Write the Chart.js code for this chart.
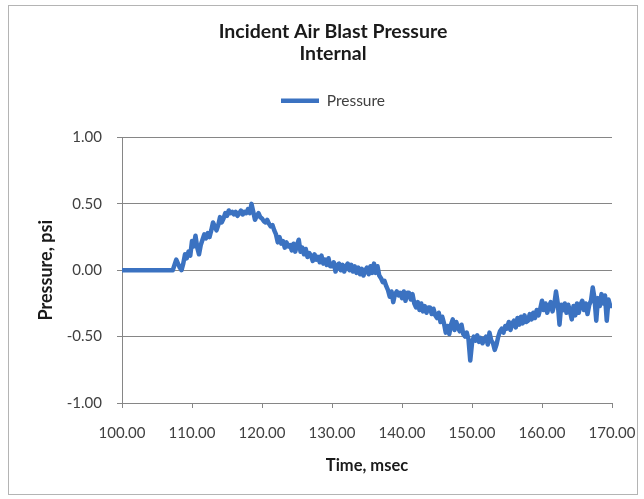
<!DOCTYPE html>
<html><head><meta charset="utf-8">
<script src="https://cdn.jsdelivr.net/npm/chart.js@4"></script>
<style>html,body{margin:0;padding:0;background:#fff}#c{display:block}</style>
</head><body>
<canvas id="c" width="644" height="499"></canvas>
<script>
const timeMs = [
100,100.25,100.5,100.75,101,101.25,101.5,101.75,102,102.25,102.5,102.75,103,103.25,103.5,103.75,
104,104.25,104.5,104.75,105,105.25,105.5,105.75,106,106.25,106.5,106.75,107,107.25,107.5,107.75,
108,108.25,108.5,108.75,109,109.25,109.5,109.75,110,110.25,110.5,110.75,111,111.25,111.5,111.75,
112,112.25,112.5,112.75,113,113.25,113.5,113.75,114,114.25,114.5,114.75,115,115.25,115.5,115.75,
116,116.25,116.5,116.75,117,117.25,117.5,117.75,118,118.25,118.5,118.75,119,119.25,119.5,119.75,
120,120.25,120.5,120.75,121,121.25,121.5,121.75,122,122.25,122.5,122.75,123,123.25,123.5,123.75,
124,124.25,124.5,124.75,125,125.25,125.5,125.75,126,126.25,126.5,126.75,127,127.25,127.5,127.75,
128,128.25,128.5,128.75,129,129.25,129.5,129.75,130,130.25,130.5,130.75,131,131.25,131.5,131.75,
132,132.25,132.5,132.75,133,133.25,133.5,133.75,134,134.25,134.5,134.75,135,135.25,135.5,135.75,
136,136.25,136.5,136.75,137,137.25,137.5,137.75,138,138.25,138.5,138.75,139,139.25,139.5,139.75,
140,140.25,140.5,140.75,141,141.25,141.5,141.75,142,142.25,142.5,142.75,143,143.25,143.5,143.75,
144,144.25,144.5,144.75,145,145.25,145.5,145.75,146,146.25,146.5,146.75,147,147.25,147.5,147.75,
148,148.25,148.5,148.75,149,149.25,149.5,149.75,150,150.25,150.5,150.75,151,151.25,151.5,151.75,
152,152.25,152.5,152.75,153,153.25,153.5,153.75,154,154.25,154.5,154.75,155,155.25,155.5,155.75,
156,156.25,156.5,156.75,157,157.25,157.5,157.75,158,158.25,158.5,158.75,159,159.25,159.5,159.75,
160,160.25,160.5,160.75,161,161.25,161.5,161.75,162,162.25,162.5,162.75,163,163.25,163.5,163.75,
164,164.25,164.5,164.75,165,165.25,165.5,165.75,166,166.25,166.5,166.75,167,167.25,167.5,167.75,
168,168.25,168.5,168.75,169,169.25,169.5,169.75,170
];
const pressurePsi = [
0,0,0,0, 0,0,0,0, 0,0,0,0, 0,0,0,0, 0,0,0,0, 0,0,0,0, 0,0,0,0,
0.00,0.00,0.04,0.08, 0.05,0.02,0.00,0.05, 0.12,0.09,0.14,0.11, 0.22,0.18,0.26,0.17,
0.12,0.19,0.23,0.27, 0.24,0.28,0.25,0.30, 0.36,0.33,0.30,0.34, 0.40,0.36,0.39,0.43,
0.41,0.45,0.43,0.44, 0.42,0.44,0.41,0.43, 0.45,0.42,0.44,0.43, 0.46,0.43,0.50,0.44,
0.38,0.41,0.43,0.40, 0.39,0.37,0.36,0.38, 0.35,0.33,0.34,0.30, 0.27,0.21,0.25,0.20,
0.22,0.17,0.21,0.18, 0.19,0.15,0.20,0.14, 0.19,0.23,0.14,0.17, 0.12,0.16,0.10,0.13,
0.11,0.07,0.12,0.08, 0.10,0.06,0.11,0.05, 0.08,0.04,0.09,0.03, 0.03,0.06,-0.01,0.04,
0.05,0.00,0.04,-0.01, 0.03,0.05,0.00,0.04, -0.01,0.03,-0.02,0.02, -0.03,0.01,-0.04,0.00,
0.02,-0.03,0.03,-0.02, 0.05,-0.02,0.03,-0.04, -0.06,-0.09,-0.08,-0.12, -0.15,-0.20,-0.16,-0.24,
-0.18,-0.16,-0.19,-0.17, -0.21,-0.16,-0.23,-0.17, -0.17,-0.22,-0.18,-0.25, -0.28,-0.24,-0.30,-0.25,
-0.31,-0.27,-0.32,-0.28, -0.28,-0.33,-0.29,-0.34, -0.36,-0.32,-0.39,-0.35, -0.40,-0.47,-0.42,-0.48,
-0.41,-0.37,-0.45,-0.39, -0.43,-0.46,-0.41,-0.48, -0.50,-0.47,-0.52,-0.68, -0.55,-0.50,-0.53,-0.49,
-0.54,-0.51,-0.55,-0.52, -0.50,-0.56,-0.47,-0.53, -0.55,-0.60,-0.56,-0.50, -0.46,-0.44,-0.47,-0.42,
-0.44,-0.39,-0.45,-0.40, -0.38,-0.43,-0.36,-0.41, -0.35,-0.40,-0.34,-0.39, -0.38,-0.33,-0.37,-0.32,
-0.36,-0.30,-0.34,-0.29, -0.23,-0.30,-0.25,-0.32, -0.27,-0.24,-0.31,-0.26, -0.16,-0.25,-0.41,-0.26,
-0.30,-0.25,-0.32,-0.26, -0.31,-0.37,-0.27,-0.34, -0.25,-0.32,-0.26,-0.23, -0.30,-0.25,-0.33,-0.26,
-0.23,-0.13,-0.21,-0.38, -0.21,-0.27,-0.18,-0.25, -0.19,-0.38,-0.22,-0.27,
-0.27
];
const xTickValues = [100,110,120,130,140,150,160,170];
const yTickValues = [-1.00,-0.50,0.00,0.50,1.00];
const titleLines = ['Incident Air Blast Pressure','Internal'];
const seriesName = 'Pressure';
const xTitle = 'Time, msec';
const yTitle = 'Pressure, psi';

const FONT = 'Lato, "Open Sans", sans-serif';
const GRID = '#868686';
const TXT = '#404040';

const frame = {
  id: 'frame',
  beforeDraw(chart) {
    const c = chart.ctx;
    c.save();
    c.fillStyle = '#fff';
    c.fillRect(0, 0, chart.width, chart.height);
    c.strokeStyle = '#b4b4b4';
    c.lineWidth = 1;
    c.strokeRect(8.5, 5.5, 629, 489);
    c.restore();
  }
};

new Chart(document.getElementById('c'), {
  type: 'line',
  data: {
    datasets: [{
      label: seriesName,
      data: timeMs.map((t, i) => ({x: t, y: pressurePsi[i]})),
      borderColor: '#3B72C1',
      backgroundColor: '#3B72C1',
      borderWidth: 4.5,
      pointRadius: 0,
      tension: 0,
      borderJoinStyle: 'round',
      borderCapStyle: 'round',
      fill: false
    }]
  },
  options: {
    responsive: false,
    animation: false,
    events: [],
    layout: {padding: {left: 30, right: 8, top: 0, bottom: 20}},
    plugins: {
      title: {
        display: true,
        text: titleLines,
        color: '#1a1a1a',
        font: {family: FONT, size: 19.5, weight: 'bold', lineHeight: 1.128},
        padding: {top: 21, bottom: 18}
      },
      subtitle: {
        display: true,
        text: '',
        weight: 500,
        font: {size: 10, lineHeight: 1},
        padding: {top: 0, bottom: 9}
      },
      legend: {
        display: true,
        position: 'top',
        labels: {
          usePointStyle: true,
          pointStyle: 'line',
          pointStyleWidth: 38,
          color: TXT,
          font: {family: FONT, size: 15.5},
          padding: 10
        }
      },
      tooltip: {enabled: false}
    },
    scales: {
      x: {
        type: 'linear',
        min: 100, max: 170,
        afterBuildTicks: s => { s.ticks = xTickValues.map(v => ({value: v})); },
        afterFit: s => { s.height = 76; s.paddingLeft = 0; s.paddingRight = 0; },
        grid: {display: true, drawOnChartArea: false, drawTicks: true, tickLength: 5, color: GRID},
        border: {display: true, color: GRID, width: 1},
        ticks: {color: TXT, font: {family: FONT, size: 15}, padding: 16, maxRotation: 0,
          callback: v => Number(v).toFixed(2)},
        title: {display: true, text: xTitle, color: '#1a1a1a',
          font: {family: FONT, size: 16.5, weight: 'bold'}, padding: {top: 0, bottom: 3}}
      },
      y: {
        type: 'linear',
        min: -1, max: 1,
        afterBuildTicks: s => { s.ticks = yTickValues.map(v => ({value: v})); },
        afterFit: s => { s.width = 92; s.paddingTop = 0; s.paddingBottom = 0; },
        grid: {display: true, drawOnChartArea: true, drawTicks: true, tickLength: 5, color: GRID},
        border: {display: true, color: GRID, width: 1},
        ticks: {color: TXT, font: {family: FONT, size: 15}, padding: 15,
          callback: v => Number(v).toFixed(2)},
        title: {display: true, text: yTitle, color: '#1a1a1a',
          font: {family: FONT, size: 18, weight: 'bold'}, padding: {top: 5, bottom: 0}}
      },
      yRight: {
        type: 'linear',
        position: 'right',
        display: true,
        afterFit: s => { s.width = 24; },
        grid: {display: false},
        border: {display: false},
        ticks: {display: false}
      }
    }
  },
  plugins: [frame]
});
</script>
</body></html>
